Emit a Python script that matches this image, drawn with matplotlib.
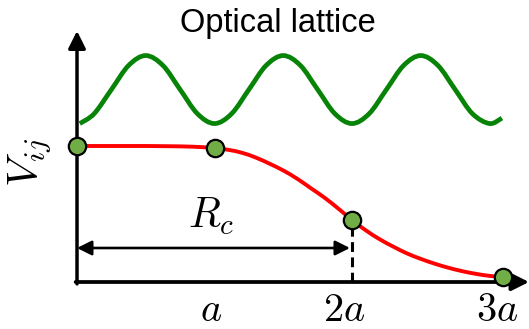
import numpy as np
import matplotlib
matplotlib.use('Agg')
import matplotlib.pyplot as plt
from matplotlib.path import Path
from matplotlib.patches import PathPatch

plt.rcParams['mathtext.fontset'] = 'cm'
plt.rcParams['font.family'] = ['Liberation Sans', 'DejaVu Sans']

# Lattice potential, sampled every 1/8 of a lattice spacing (r in units of a).
lattice_r = [0.02, 0.125, 0.25, 0.375, 0.5, 0.625, 0.75, 0.875, 1.0,
             1.125, 1.25, 1.375, 1.5, 1.625, 1.75, 1.875, 2.0,
             2.125, 2.25, 2.375, 2.5, 2.625, 2.75, 2.875, 3.0, 3.09]
lattice_v = [1.165, 1.238, 1.415, 1.592, 1.665, 1.592, 1.415, 1.238, 1.165,
             1.238, 1.415, 1.592, 1.665, 1.592, 1.415, 1.238, 1.165,
             1.238, 1.415, 1.592, 1.665, 1.592, 1.415, 1.238, 1.165, 1.205]

# Soft-core interaction V_ij(r).
interaction_r = [0.0, 0.1, 0.2, 0.3, 0.4, 0.5, 0.6, 0.7, 0.8, 0.9, 1.0,
                 1.1, 1.2, 1.3, 1.4, 1.5, 1.6, 1.7, 1.8, 1.9, 2.0,
                 2.1, 2.2, 2.3, 2.4, 2.5, 2.6, 2.7, 2.8, 2.9, 3.0, 3.1]
interaction_v = [1.0, 1.0, 1.0, 1.0, 1.0, 1.0, 0.999, 0.998, 0.996, 0.992, 0.985,
                 0.972, 0.95, 0.915, 0.87, 0.82, 0.76, 0.69, 0.62, 0.54, 0.456,
                 0.38, 0.315, 0.26, 0.21, 0.17, 0.135, 0.105, 0.08, 0.06, 0.045, 0.035]

# Atoms sitting on lattice sites.
site_r = [0.0, 1.0, 2.0, 3.1]
site_v = [1.0, 0.985, 0.456, 0.035]

cutoff_r = 2.0
tick_pos = [1, 2, 3]
tick_labels = ['$a$', '$2a$', '$3a$']


def smooth_path(x, y):
    # Catmull-Rom through the samples, as cubic Bezier segments
    verts = [(x[0], y[0])]
    codes = [Path.MOVETO]
    n = len(x)
    for i in range(n - 1):
        p0 = max(i - 1, 0)
        p3 = min(i + 2, n - 1)
        c1 = (x[i] + (x[i + 1] - x[p0]) / 6, y[i] + (y[i + 1] - y[p0]) / 6)
        c2 = (x[i + 1] - (x[p3] - x[i]) / 6, y[i + 1] - (y[p3] - y[i]) / 6)
        verts += [c1, c2, (x[i + 1], y[i + 1])]
        codes += [Path.CURVE4] * 3
    return Path(verts, codes)


fig = plt.figure(figsize=(5.29, 3.29), dpi=100)
ax = fig.add_axes([0, 0, 1, 1])
ax.set_xlim(-0.56, 3.287)
ax.set_ylim(-0.3456, 2.0735)
ax.axis('off')

# Axes with arrow heads
ax.annotate('', xy=(0, 1.846), xytext=(0, -0.014),
            arrowprops=dict(arrowstyle='-|>', lw=2.5, color='black',
                            mutation_scale=26, shrinkA=0, shrinkB=0), zorder=2)
ax.annotate('', xy=(3.287, 0), xytext=(-0.01, 0),
            arrowprops=dict(arrowstyle='-|>', lw=2.7, color='black',
                            mutation_scale=26, shrinkA=0, shrinkB=0), zorder=2)

ax.add_patch(PathPatch(smooth_path(lattice_r, lattice_v), fill=False,
                       ec='#078407', lw=3.4, capstyle='butt', zorder=3))
ax.add_patch(PathPatch(smooth_path(interaction_r, interaction_v), fill=False,
                       ec='#ff0000', lw=2.8, zorder=3))

# Cutoff radius
ax.plot([cutoff_r, cutoff_r], [0, site_v[2]], color='black', lw=2.2,
        dashes=(3.2, 1.8), zorder=2)
ax.annotate('', xy=(cutoff_r - 0.015, 0.25), xytext=(0, 0.25),
            arrowprops=dict(arrowstyle='<|-|>', lw=1.9, color='black',
                            mutation_scale=22, shrinkA=0, shrinkB=0), zorder=2)
ax.text(0.975, 0.48, '$R_c$', fontsize=30, ha='center', va='center')

ax.plot(site_r, site_v, 'o', ms=12.5, mfc='#70ad47', mec='black', mew=1.6,
        zorder=5)

nudge = [-3, -8, 8]
for x, lab, dx in zip(tick_pos, tick_labels, nudge):
    ax.annotate(lab, xy=(x, 0), xytext=(dx * 0.72, -20), textcoords='offset points',
                fontsize=29, ha='center', va='center')

ax.text(-0.34, 0.88, '$V_{ij}$', fontsize=31, rotation=90,
        ha='center', va='center')

fig.text(0.5246, 0.93, 'Optical lattice', fontsize=23.5,
         ha='center', va='center')

fig.savefig('out.png', dpi=100)
